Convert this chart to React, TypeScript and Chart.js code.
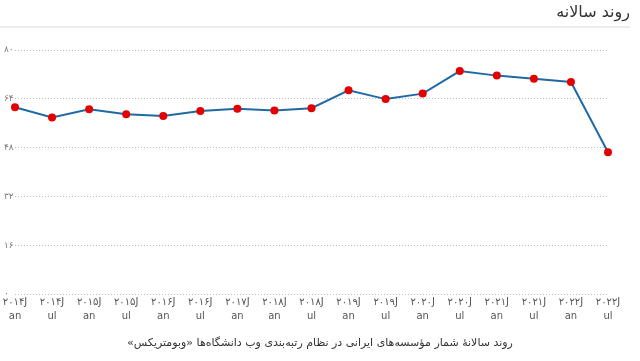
import React, { useEffect, useRef } from 'react';
import { Chart, registerables } from 'chart.js';

Chart.register(...registerables);

// Categories (Jan/Jul of each year)
const categories = [
  'Jan 2014', 'Jul 2014', 'Jan 2015', 'Jul 2015', 'Jan 2016', 'Jul 2016',
  'Jan 2017', 'Jan 2018', 'Jul 2018', 'Jan 2019', 'Jul 2019', 'Jan 2020',
  'Jul 2020', 'Jan 2021', 'Jul 2021', 'Jan 2022', 'Jul 2022',
];

// X tick labels as rendered (two lines)
const xTickLine1 = [
  '۲۰۱۴J', '۲۰۱۴J', '۲۰۱۵J', '۲۰۱۵J', '۲۰۱۶J', '۲۰۱۶J', '۲۰۱۷J', '۲۰۱۸J', '۲۰۱۸J',
  '۲۰۱۹J', '۲۰۱۹J', '۲۰۲۰J', '۲۰۲۰J', '۲۰۲۱J', '۲۰۲۱J', '۲۰۲۲J', '۲۰۲۲J',
];
const xTickLine2 = [
  'an', 'ul', 'an', 'ul', 'an', 'ul', 'an', 'an', 'ul',
  'an', 'ul', 'an', 'ul', 'an', 'ul', 'an', 'ul',
];

// Series values
const values = [612, 579, 606, 589, 584, 600, 607, 602, 609, 668, 639, 657, 731, 716, 706, 695, 465];

// Y ticks
const yTickValues = [0, 160, 320, 480, 640, 800];
const yTickLabels = ['۰', '۱۶۰', '۳۲۰', '۴۸۰', '۶۴۰', '۸۰۰'];

const titleText = 'روند سالانه';
const captionText = 'روند سالانهٔ شمار مؤسسه‌های ایرانی در نظام رتبه‌بندی وب دانشگاه‌ها «وبومتریکس»';

const FONT = 'Tahoma, "DejaVu Sans", sans-serif';

export default function App() {
  const canvasRef = useRef<HTMLCanvasElement | null>(null);

  useEffect(() => {
    document.body.style.margin = '0';
    const canvas = canvasRef.current;
    if (!canvas) return;
    const chart = new Chart(canvas, {
      type: 'line',
      data: {
        labels: categories.map((_, i) => [xTickLine1[i], xTickLine2[i]]),
        datasets: [
          {
            data: values,
            borderColor: '#1f6aa5',
            borderWidth: 2,
            tension: 0,
            pointRadius: 4,
            pointHoverRadius: 4,
            pointBackgroundColor: '#e50000',
            pointBorderColor: '#e50000',
            pointBorderWidth: 0,
            clip: false,
          },
        ],
      },
      options: {
        animation: false,
        responsive: false,
        devicePixelRatio: 1,
        layout: { padding: { left: 4, right: 32, top: 50, bottom: 37 } },
        plugins: {
          legend: { display: false },
          tooltip: { enabled: false },
          title: { display: false },
        },
        scales: {
          x: {
            type: 'category',
            offset: false,
            grid: { display: false, drawTicks: false },
            border: { display: false },
            ticks: {
              autoSkip: false,
              maxRotation: 0,
              minRotation: 0,
              padding: 1,
              color: '#555',
              font: { family: FONT, size: 10, lineHeight: 1.4 },
            },
            afterFit: (scale: any) => {
              scale.height = 30;
            },
          },
          y: {
            min: 0,
            max: 800,
            afterBuildTicks: (scale: any) => {
              scale.ticks = yTickValues.map((v) => ({ value: v }));
            },
            grid: {
              color: '#bdbdbd',
              lineWidth: 1,
              drawTicks: false,
            },
            border: { display: false, dash: [1, 2] },
            ticks: {
              crossAlign: 'far',
              padding: 0,
              color: '#777',
              font: { family: FONT, size: 9 },
              callback: (value: any) => {
                const idx = yTickValues.indexOf(Number(value));
                return idx >= 0 ? yTickLabels[idx] : '';
              },
            },
            afterFit: (scale: any) => {
              scale.width = 11;
            },
          },
        },
      },
    });
    return () => chart.destroy();
  }, []);

  return (
    <div style={{ position: 'fixed', left: 0, top: 0, width: 640, height: 361, background: '#fff', overflow: 'hidden' }}>
      <canvas ref={canvasRef} width={640} height={361} style={{ position: 'absolute', left: 0, top: 0 }} />
      <div
        dir="rtl"
        style={{
          position: 'absolute', right: 10, top: 1, fontFamily: FONT, fontSize: 16,
          color: '#333', lineHeight: '22px', whiteSpace: 'nowrap',
        }}
      >
        {titleText}
      </div>
      <div style={{ position: 'absolute', left: 0, top: 26, width: 630, height: 2, background: '#ececec' }} />
      <div
        dir="rtl"
        style={{
          position: 'absolute', left: 0, width: 640, top: 335, textAlign: 'center', fontFamily: FONT,
          fontSize: 11, color: '#333', lineHeight: '16px', whiteSpace: 'nowrap',
        }}
      >
        {captionText}
      </div>
    </div>
  );
}
